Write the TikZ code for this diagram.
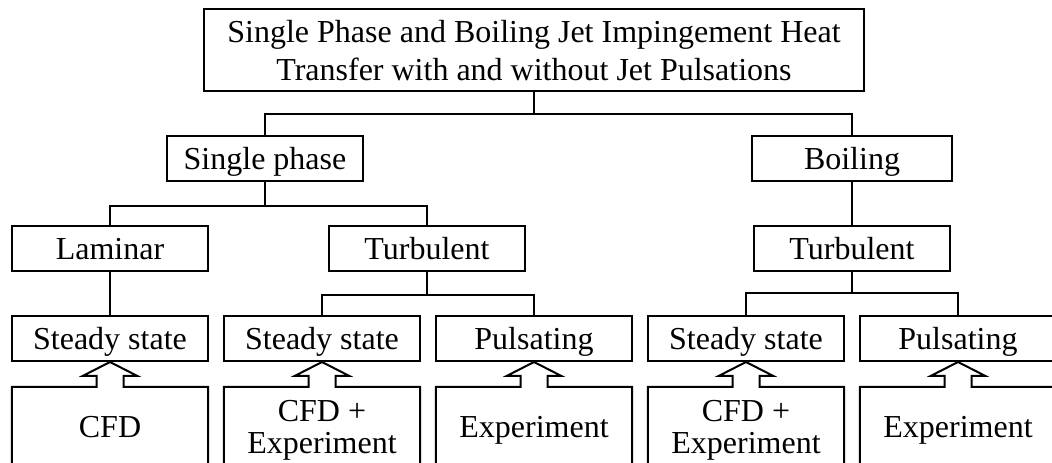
\documentclass[tikz,border=0pt]{standalone}
\usepackage{fontspec}
\setmainfont{Liberation Serif}
\usetikzlibrary{calc}
\begin{document}
\begin{tikzpicture}[x=1pt,y=-1pt,
  frame/.style={draw, line width=2pt, inner sep=0pt, font=\fontsize{32}{38}\selectfont},
  box/.style={frame, minimum height=45pt, minimum width=196pt, text height=21pt, text depth=0pt},
  src/.style={inner sep=0pt, minimum width=196pt, minimum height=80pt, align=center, text depth=0pt, font=\fontsize{32}{32.6}\selectfont},
  oneline/.style={text height=21pt},
  link/.style={line width=2pt},
  blockarrow/.style={line width=2pt, line join=miter}]
\fill[white] (0,0) rectangle (1052,463);
\useasboundingbox (0,0) rectangle (1052,463);
\clip (0,0) rectangle (1052,463);

% level 1
\node[frame, minimum width=660pt, minimum height=82pt, align=center, text depth=0pt] (title) at (534,50)
  {Single Phase and Boiling Jet Impingement Heat\\Transfer with and without Jet Pulsations};
% level 2
\node[box] (single) at (265,158.5) {Single phase};
\node[box, minimum width=200pt] (boiling) at (852,158.5) {Boiling};
% level 3
\node[box] (laminar) at (110,248.5) {Laminar};
\node[box] (turbA) at (427,248.5) {Turbulent};
\node[box] (turbB) at (852,248.5) {Turbulent};
% level 4
\node[box] (ssA) at (110,338.5) {Steady state};
\node[box] (ssB) at (322,338.5) {Steady state};
\node[box] (pulsA) at (534,338.5) {Pulsating};
\node[box] (ssC) at (746,338.5) {Steady state};
\node[box] (pulsB) at (958,338.5) {Pulsating};
% level 5
\node[src, oneline] (cfdA) at (110,427) {CFD};
\node[src] (cfdB) at (322,427) {CFD +\\Experiment};
\node[src, oneline] (expA) at (534,427) {Experiment};
\node[src] (cfdC) at (746,427) {CFD +\\Experiment};
\node[src, oneline] (expB) at (958,427) {Experiment};

% tree connectors
\draw[link] (title.south) -- (title.south |- 0,114);
\draw[link] (single.north) -- (single.north |- 0,114) -- (boiling.north |- 0,114) -- (boiling.north);
\draw[link] (single.south) -- (single.south |- 0,206);
\draw[link] (laminar.north) -- (laminar.north |- 0,206) -- (turbA.north |- 0,206) -- (turbA.north);
\draw[link] (laminar.south) -- (ssA.north);
\draw[link] (turbA.south) -- (turbA.south |- 0,295);
\draw[link] (ssB.north) -- (ssB.north |- 0,295) -- (pulsA.north |- 0,295) -- (pulsA.north);
\draw[link] (boiling.south) -- (turbB.north);
\draw[link] (turbB.south) -- (turbB.south |- 0,293);
\draw[link] (ssC.north) -- (ssC.north |- 0,293) -- (pulsB.north |- 0,293) -- (pulsB.north);

% source boxes with block arrows
\foreach \b/\u in {cfdA/ssA, cfdB/ssB, expA/pulsA, cfdC/ssC, expB/pulsB}{
  \draw[blockarrow] (\b.south west) -- (\b.north west)
    -- ($(\b.north)+(-13.5,0)$) -- ($(\b.north)+(-13.5,-11)$) -- ($(\b.north)+(-27,-11)$)
    -- (\u.south)
    -- ($(\b.north)+(27,-11)$) -- ($(\b.north)+(13.5,-11)$) -- ($(\b.north)+(13.5,0)$)
    -- (\b.north east) -- (\b.south east);
}
\end{tikzpicture}
\end{document}
